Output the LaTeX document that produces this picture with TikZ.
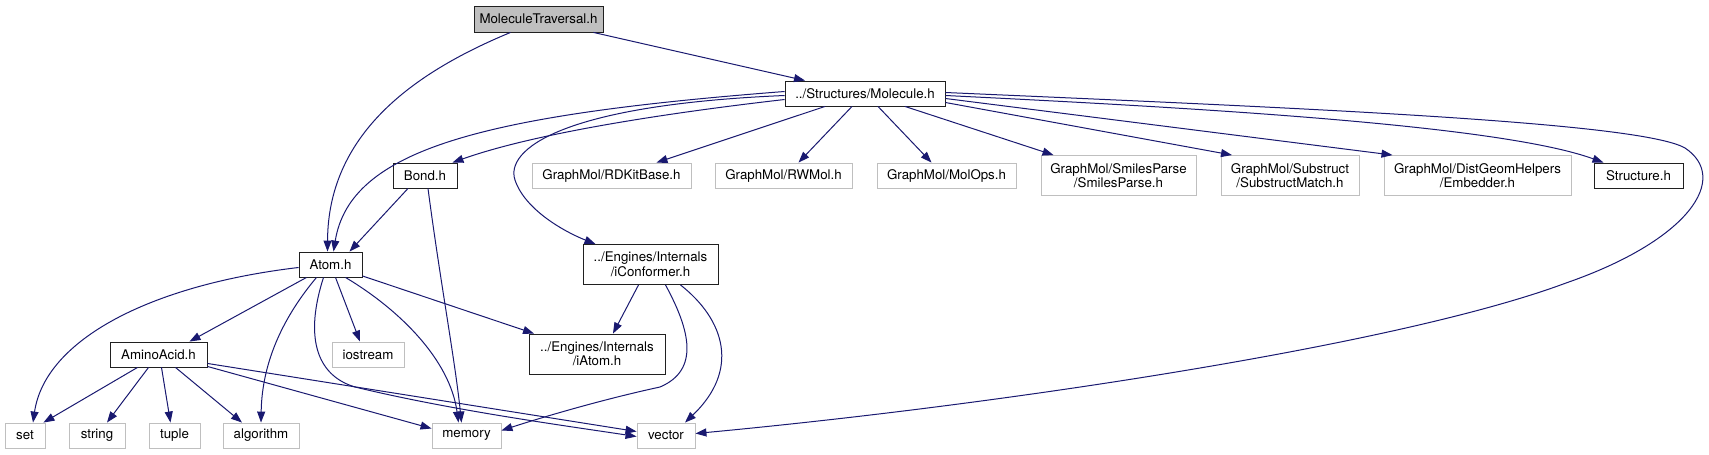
\documentclass[tikz,border=0pt]{standalone}
\usepackage{fontspec}
\setmainfont{TeX Gyre Heros}
\usetikzlibrary{arrows.meta}
\definecolor{edgeblue}{HTML}{191970}
\definecolor{extgray}{HTML}{BFBFBF}
\definecolor{nodeline}{HTML}{202020}
\tikzset{
  nbox/.style={draw=nodeline, line width=0.9pt, fill=white, inner sep=0pt, align=center,
    font=\fontsize{13.3}{14.5}\selectfont, minimum height=25pt},
  extbox/.style={nbox, draw=extgray},
  twoline/.style={minimum height=40pt},
  dep/.style={draw=edgeblue, line width=1pt, -{Triangle[length=11pt,width=8pt]}}
}
\begin{document}
\begin{tikzpicture}[x=1pt,y=-1pt]
\useasboundingbox (0,0) rectangle (1709,455);
% nodes
\node[nbox, fill=extgray, minimum width=129pt, minimum height=26pt] (mt) at (538.5,19) {MoleculeTraversal.h};
\node[nbox, minimum width=160pt] (mol) at (865,93.5) {../Structures/Molecule.h};
\node[nbox, minimum width=64pt] (bond) at (425,175.5) {Bond.h};
\node[extbox, minimum width=159pt] (rdkit) at (611.5,175.5) {GraphMol/RDKitBase.h};
\node[extbox, minimum width=137pt] (rwmol) at (783.5,175.5) {GraphMol/RWMol.h};
\node[extbox, minimum width=139pt] (molops) at (946.5,175.5) {GraphMol/MolOps.h};
\node[extbox, twoline, minimum width=155pt] (smiles) at (1118.5,175.5) {GraphMol/SmilesParse\\/SmilesParse.h};
\node[extbox, twoline, minimum width=138pt] (subs) at (1290,175.5) {GraphMol/Substruct\\/SubstructMatch.h};
\node[extbox, twoline, minimum width=187pt] (dist) at (1477.5,175.5) {GraphMol/DistGeomHelpers\\/Embedder.h};
\node[nbox, minimum width=89pt] (struct) at (1638.5,175.5) {Structure.h};
\node[nbox, minimum width=63pt] (atom) at (330.5,264.5) {Atom.h};
\node[nbox, twoline, minimum width=135pt] (iconf) at (650.5,264.5) {../Engines/Internals\\/iConformer.h};
\node[nbox, minimum width=97pt] (amino) at (158.5,354.5) {AminoAcid.h};
\node[extbox, minimum width=72pt] (iostream) at (368,354.5) {iostream};
\node[nbox, twoline, minimum width=136pt] (iatom) at (597,354) {../Engines/Internals\\/iAtom.h};
\node[extbox, minimum width=40pt] (set) at (25,435.5) {set};
\node[extbox, minimum width=56pt] (string) at (97,435.5) {string};
\node[extbox, minimum width=51pt] (tuple) at (174.5,435.5) {tuple};
\node[extbox, minimum width=76pt] (algo) at (261,435.5) {algorithm};
\node[extbox, minimum width=69pt] (memory) at (466.5,435.5) {memory};
\node[extbox, minimum width=58pt] (vector) at (666,435.5) {vector};
% edges from MoleculeTraversal.h
\draw[dep] ([xshift=-28pt]mt.south) .. controls (420,70) and (328,130) .. ([xshift=-3pt]atom.north);
\draw[dep] ([xshift=55pt]mt.south) -- ([xshift=-60pt]mol.north);
% edges from Molecule.h
\draw[dep] ([yshift=2pt]mol.west) .. controls (480,115) and (350,150) .. ([xshift=3pt]atom.north);
\draw[dep] ([yshift=-2pt]mol.west) .. controls (560,105) and (505,150) .. (515,180) .. controls (525,210) and (565,232) .. ([xshift=-55pt]iconf.north);
\draw[dep] ([yshift=-6pt]mol.west) .. controls (650,115) and (530,135) .. ([xshift=-5pt]bond.north east);
\draw[dep] ([xshift=-40pt]mol.south) -- ([xshift=45pt]rdkit.north);
\draw[dep] ([xshift=-13pt]mol.south) -- ([xshift=15pt]rwmol.north);
\draw[dep] ([xshift=13pt]mol.south) -- ([xshift=-15pt]molops.north);
\draw[dep] ([xshift=40pt]mol.south) -- ([xshift=-65pt]smiles.north);
\draw[dep] ([yshift=-9pt]mol.east) -- ([xshift=-58pt]subs.north);
\draw[dep] ([yshift=-5pt]mol.east) -- ([xshift=-85pt]dist.north);
\draw[dep] ([yshift=-2pt]mol.east) .. controls (1200,108) and (1500,125) .. ([xshift=-35pt]struct.north);
\draw[dep] ([yshift=1pt]mol.east) .. controls (1300,108) and (1640,122) .. (1685,148) .. controls (1730,178) and (1690,240) .. (1566,283) .. controls (1400,345) and (1000,405) .. ([yshift=2pt]vector.east);
% edges from Bond.h
\draw[dep] ([xshift=-17pt]bond.south) -- ([xshift=19pt]atom.north);
\draw[dep] ([xshift=3pt]bond.south) .. controls (440,280) and (455,360) .. ([xshift=-5pt]memory.north);
% edges from Atom.h
\draw[dep] ([yshift=-3pt]atom.west) .. controls (150,285) and (45,340) .. ([xshift=8pt]set.north);
\draw[dep] ([xshift=-24pt]atom.south) -- ([xshift=31pt]amino.north);
\draw[dep] ([xshift=-14pt]atom.south) .. controls (285,315) and (262,360) .. (algo.north);
\draw[dep] ([xshift=-7pt]atom.south) .. controls (305,335) and (315,375) .. (355,387) .. controls (450,410) and (560,425) .. ([yshift=-1pt]vector.west);
\draw[dep] ([xshift=5pt]atom.south) -- ([xshift=-8pt]iostream.north);
\draw[dep] ([xshift=15pt]atom.south) .. controls (400,310) and (450,360) .. ([xshift=-8pt]memory.north);
\draw[dep] ([yshift=1.5pt]atom.south east) -- ([xshift=-63pt]iatom.north);
% edges from AminoAcid.h
\draw[dep] ([xshift=-21pt]amino.south) -- ([xshift=-2pt]set.north east);
\draw[dep] ([xshift=-10pt]amino.south) -- ([xshift=10pt]string.north);
\draw[dep] ([xshift=3pt]amino.south) -- ([xshift=-4pt]tuple.north);
\draw[dep] ([xshift=17pt]amino.south) -- ([xshift=-19pt]algo.north);
\draw[dep] ([yshift=1pt]amino.south east) -- ([yshift=7pt]memory.west);
\draw[dep] ([yshift=4pt]amino.south east) -- ([yshift=4pt]vector.west);
% edges from iConformer.h
\draw[dep] ([xshift=-12pt]iconf.south) -- ([xshift=16pt]iatom.north);
\draw[dep] ([xshift=15pt]iconf.south) .. controls (690,330) and (700,370) .. (660,387) .. controls (600,400) and (540,418) .. ([yshift=5pt]memory.east);
\draw[dep] ([xshift=30pt]iconf.south) .. controls (725,320) and (740,370) .. ([xshift=19pt]vector.north);
\end{tikzpicture}
\end{document}
